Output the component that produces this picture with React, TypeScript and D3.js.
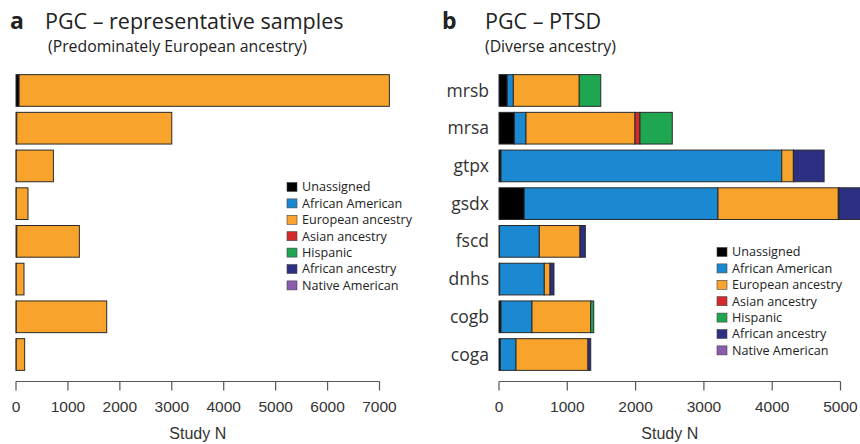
import React from "react";
import * as d3 from "d3";

const groups = ["Unassigned", "African American", "European ancestry", "Asian ancestry", "Hispanic", "African ancestry", "Native American"];
const colors = ["#000000", "#1b88d2", "#f8a42c", "#d42a2e", "#1fa650", "#2c2f82", "#8b5cae"];

// Panel a (unlabeled rows, top to bottom)
const aRows = ["r1", "r2", "r3", "r4", "r5", "r6", "r7", "r8"];
const aUnassigned = [60, 15, 5, 5, 15, 5, 5, 5];
const aEuropean = [7130, 2985, 715, 226, 1205, 149, 1742, 162];

// Panel b
const bRows = ["mrsb", "mrsa", "gtpx", "gsdx", "fscd", "dnhs", "cogb", "coga"];
const bUnassigned = [120, 225, 30, 370, 8, 10, 30, 20];
const bAfricanAmerican = [90, 170, 4110, 2836, 582, 653, 453, 229];
const bEuropean = [965, 1596, 170, 1762, 596, 84, 859, 1054];
const bAsian = [0, 73, 0, 0, 0, 0, 0, 0];
const bHispanic = [315, 473, 0, 10, 0, 0, 45, 0];
const bAfricanAncestry = [0, 0, 450, 320, 78, 58, 0, 40];
const bNative = [0, 0, 0, 0, 0, 0, 0, 0];

const aTicks = [0, 1000, 2000, 3000, 4000, 5000, 6000, 7000];
const bTicks = [0, 1000, 2000, 3000, 4000, 5000];

const font = "'Open Sans', Lato, sans-serif";
const axisFont = "'Liberation Sans', Arial, sans-serif";

type Seg = { key: string; x0: number; x1: number; color: string };

function stackRows(rows: string[], series: number[][]): Seg[][] {
  return rows.map((_, i) => {
    let acc = 0;
    const segs: Seg[] = [];
    series.forEach((s, k) => {
      const v = s[i];
      if (v > 0) {
        segs.push({ key: groups[k], x0: acc, x1: acc + v, color: colors[k] });
        acc += v;
      }
    });
    return segs;
  });
}

function Panel({
  rows, series, x0, x1, domainMax, ticks, showLabels, legendX, legendY, clipRight,
}: {
  rows: string[]; series: number[][]; x0: number; x1: number; domainMax: number; ticks: number[];
  showLabels: boolean; legendX: number; legendY: number; clipRight: number;
}) {
  const x = d3.scaleLinear().domain([0, domainMax]).range([x0, x1]);
  const y = d3.scaleBand().domain(rows).range([73.5, 371.5]).paddingInner(0.16).paddingOuter(0.03);
  const stacked = stackRows(rows, series);
  const axisY = 381.5;
  const clipId = "clip" + x0;
  return (
    <g>
      <defs>
        <clipPath id={clipId}>
          <rect x={0} y={0} width={clipRight} height={444} />
        </clipPath>
      </defs>
      <g clipPath={`url(#${clipId})`}>
        {stacked.map((segs, i) => (
          <g key={rows[i]}>
            {segs.map((s) => (
              <rect
                key={s.key}
                x={x(s.x0)}
                y={y(rows[i])!}
                width={x(s.x1) - x(s.x0)}
                height={y.bandwidth()}
                fill={s.color}
                stroke="#2a2a2a"
                strokeWidth={1}
              />
            ))}
          </g>
        ))}
      </g>
      {showLabels &&
        rows.map((r) => (
          <text key={r} x={x0 - 10} y={y(r)! + y.bandwidth() / 2} dy="0.35em" textAnchor="end"
            fontFamily={font} fontSize={17.5} fill="#333">
            {r}
          </text>
        ))}
      <line x1={x(ticks[0])} x2={x(ticks[ticks.length - 1])} y1={axisY} y2={axisY} stroke="#555" strokeWidth={1.2} />
      {ticks.map((t) => (
        <g key={t}>
          <line x1={x(t)} x2={x(t)} y1={axisY} y2={axisY + 9} stroke="#555" strokeWidth={1.2} />
          <text x={x(t)} y={412} textAnchor="middle" fontFamily={axisFont} fontSize={15.5} fill="#333">
            {t}
          </text>
        </g>
      ))}
      <text x={(x0 + x1) / 2} y={439} textAnchor="middle" fontFamily={axisFont} fontSize={16} fill="#333">
        Study N
      </text>
      {groups.map((g, k) => (
        <g key={g} transform={`translate(${legendX},${legendY + k * 16.4})`}>
          <rect x={0} y={-4.5} width={10} height={9} fill={colors[k]} stroke="#444" strokeWidth={0.6} />
          <text x={15} y={0} dy="0.35em" fontFamily={font} fontSize={12.6} fill="#222">
            {g}
          </text>
        </g>
      ))}
    </g>
  );
}

export default function App() {
  return (
    <svg width={860} height={444} style={{ position: "absolute", left: 0, top: 0, background: "#fff" }}>
      <text x={10} y={29} fontFamily={font} fontWeight={700} fontSize={23} fill="#222">a</text>
      <text x={45} y={29} fontFamily={font} fontSize={21.5} fill="#222">PGC – representative samples</text>
      <text x={48} y={52} fontFamily={font} fontSize={15.8} fill="#222">(Predominately European ancestry)</text>
      <text x={442} y={29} fontFamily={font} fontWeight={700} fontSize={23} fill="#222">b</text>
      <text x={485} y={29} fontFamily={font} fontSize={21.5} fill="#222">PGC – PTSD</text>
      <text x={485} y={52} fontFamily={font} fontSize={15.8} fill="#222">(Diverse ancestry)</text>
      <Panel rows={aRows} series={[aUnassigned, [0, 0, 0, 0, 0, 0, 0, 0], aEuropean]} x0={16} x1={379.5}
        domainMax={7000} ticks={aTicks} showLabels={false} legendX={287} legendY={187} clipRight={430} />
      <Panel rows={bRows}
        series={[bUnassigned, bAfricanAmerican, bEuropean, bAsian, bHispanic, bAfricanAncestry, bNative]}
        x0={499} x1={840.5} domainMax={5000} ticks={bTicks} showLabels={true} legendX={717} legendY={252} clipRight={860} />
    </svg>
  );
}
